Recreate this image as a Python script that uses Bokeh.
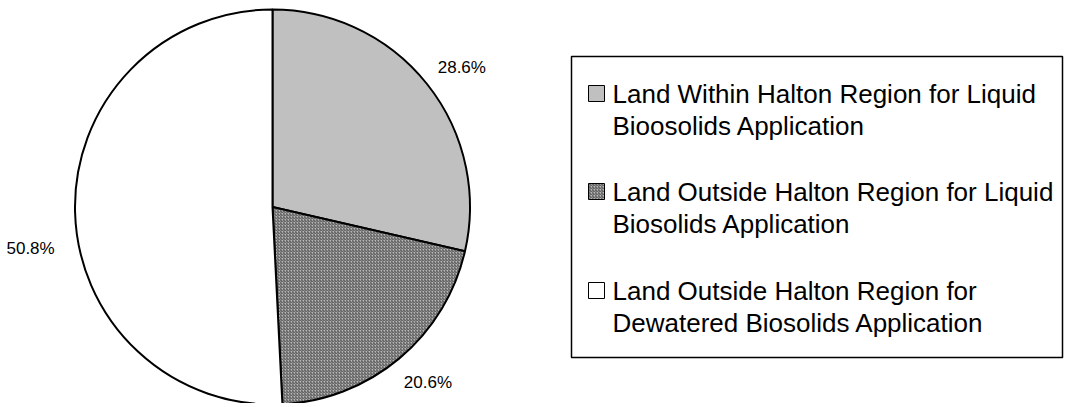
import math
from bokeh.plotting import figure
from bokeh.models import Range1d
from bokeh.core.properties import value
from bokeh.embed import file_html
from bokeh.resources import INLINE

# ---- data ----
categories = [
    "Land Within Halton Region for Liquid\nBioosolids Application",
    "Land Outside Halton Region for Liquid\nBiosolids Application",
    "Land Outside Halton Region for\nDewatered Biosolids Application",
]
shares = [28.6, 20.6, 50.8]
pct_labels = ["28.6%", "20.6%", "50.8%"]

# ---- styles / layout ----
fills = ["#c0c0c0", "#b8b8b8", "#ffffff"]
hatches = [" ", "right_diagonal_line", " "]
FONT = "Liberation Sans"
W, H = 1064, 403
cx, cy, R = 272, 196.5, 197.5
label_r = 242
label_dy = [-11, 10, -35]

p = figure(width=W, height=H, output_backend="svg", toolbar_location=None,
           x_range=Range1d(0, W), y_range=Range1d(0, H),
           min_border=0, x_axis_location=None, y_axis_location=None)
p.grid.visible = False
p.outline_line_color = None

total = sum(shares)
starts, ends, mids = [], [], []
acc = 0.0
for s in shares:
    a0 = math.pi / 2 - 2 * math.pi * acc / total
    acc += s
    a1 = math.pi / 2 - 2 * math.pi * acc / total
    starts.append(a0)
    ends.append(a1)
    mids.append((a0 + a1) / 2)

for i in range(len(shares)):
    p.wedge(x=cx, y=cy, radius=R, start_angle=starts[i], end_angle=ends[i],
            direction="clock", fill_color=fills[i], line_color="black", line_width=2,
            hatch_pattern=hatches[i], hatch_color="#505050", hatch_scale=3.0,
            hatch_weight=1.0)

# percentage labels
lx = [cx + label_r * math.cos(m) for m in mids]
ly = [cy + label_r * math.sin(m) + d for m, d in zip(mids, label_dy)]
p.text(x=lx, y=ly, text=pct_labels, text_font=value(FONT), text_font_size="17px",
       text_align="center", text_baseline="middle", text_color="black")

# legend box
box_l, box_r, box_t, box_b = 571, 1062, 347, 46
p.quad(left=box_l, right=box_r, bottom=box_b, top=box_t, fill_color="white",
       line_color="black", line_width=1.5)

entry_top = [310, 212, 113]
line_gap = 32
for i, cat in enumerate(categories):
    p.rect(x=596, y=entry_top[i], width=16, height=16, fill_color=fills[i],
           line_color="black", line_width=1, hatch_pattern=hatches[i],
           hatch_color="#505050", hatch_scale=3.0, hatch_weight=1.0)
    lines = cat.split("\n")
    p.text(x=[612] * len(lines), y=[entry_top[i] - k * line_gap for k in range(len(lines))],
           text=lines, text_font=value(FONT), text_font_size="26px",
           text_align="left", text_baseline="middle", text_color="black")

open("out.html", "w").write(file_html(p, INLINE))
